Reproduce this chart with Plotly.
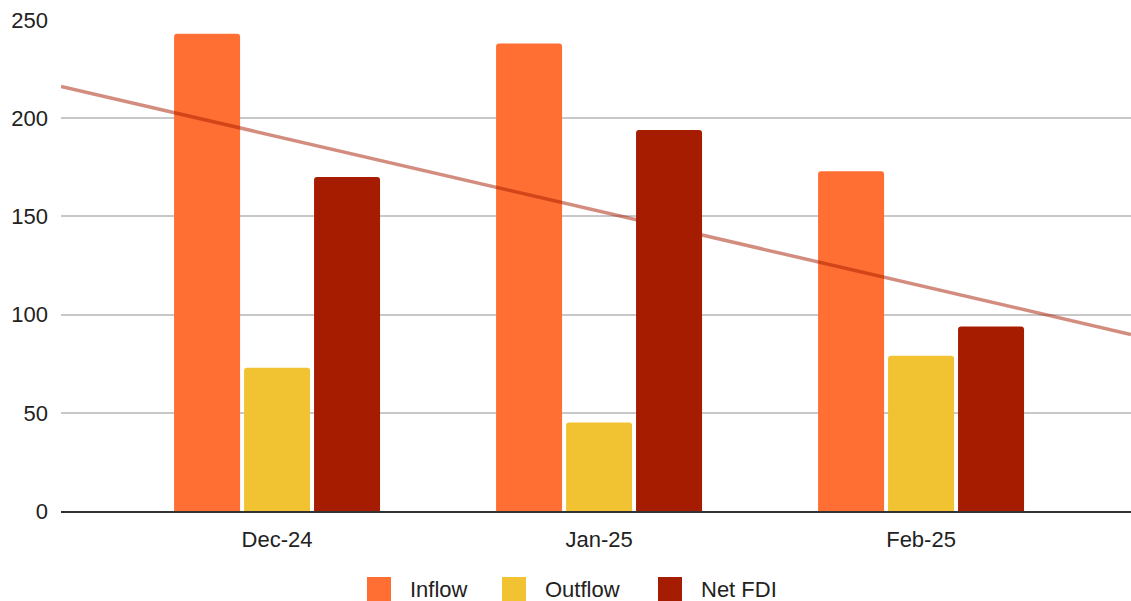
import numpy as np
import plotly.graph_objects as go

# FDI flows by month
months = ["Dec-24", "Jan-25", "Feb-25"]
inflow = [243, 238, 173]
outflow = [73, 45, 79]
net_fdi = [170, 194, 94]

series = ["Inflow", "Outflow", "Net FDI"]
colors = {"Inflow": "#FF6F33", "Outflow": "#F1C232", "Net FDI": "#A61C00"}

W, H = 1131, 601
M = dict(l=61, r=0, t=20, b=90)
PW, PH = W - M["l"] - M["r"], H - M["t"] - M["b"]

fig = go.Figure()
for name, vals in zip(series, [inflow, outflow, net_fdi]):
    fig.add_trace(go.Bar(x=months, y=vals, name=name, marker_color=colors[name],
                         marker_line_width=0, showlegend=False))

# Linear trend of Net FDI, drawn across the full x range
x_range = [-0.671, 2.652]
idx = np.arange(len(months))
slope, intercept = np.polyfit(idx, net_fdi, 1)
tx = np.array(x_range)
fig.add_trace(go.Scatter(x=tx, y=slope * tx + intercept, mode="lines",
                         line=dict(color="rgba(166,28,0,0.5)", width=3.5),
                         showlegend=False, hoverinfo="skip", xaxis="x2"))

# Legend drawn as large swatches with labels below the plot
def px_x(p):
    return (p - M["l"]) / PW

def px_y(p):
    return (H - M["b"] - p) / PH

legend_x = {"Inflow": 367, "Outflow": 502, "Net FDI": 658}
sw, cy = 24, 589
for name in series:
    x0 = legend_x[name]
    fig.add_shape(type="rect", xref="paper", yref="paper",
                  x0=px_x(x0), x1=px_x(x0 + sw), y0=px_y(cy + sw / 2), y1=px_y(cy - sw / 2),
                  fillcolor=colors[name], line=dict(width=0), layer="above")
    fig.add_annotation(xref="paper", yref="paper", x=px_x(x0 + sw + 17), y=px_y(cy),
                       xanchor="left", yanchor="middle", text=name, showarrow=False,
                       font=dict(size=22, color="#222222"))

fig.update_layout(
    width=W, height=H,
    margin=M,
    paper_bgcolor="white", plot_bgcolor="white",
    font=dict(family="Liberation Sans, Arial, sans-serif", size=22, color="#222222"),
    barmode="group", bargap=0.348, bargroupgap=0.057, barcornerradius=3,
    showlegend=False,
    xaxis=dict(type="category", range=x_range, showgrid=False, ticks="",
               showline=True, linecolor="#333333", linewidth=1.5,
               ticklabelstandoff=8, automargin=False,
               tickfont=dict(size=22, color="#222222")),
    xaxis2=dict(range=x_range, overlaying="x", visible=False),
    yaxis=dict(range=[0, 250], dtick=50, showgrid=True, gridcolor="#C8C8C8",
               gridwidth=1.5, zeroline=False, ticks="", ticklabelstandoff=12,
               automargin=False, tickfont=dict(size=22, color="#222222")),
)

fig.write_html("out.html")
